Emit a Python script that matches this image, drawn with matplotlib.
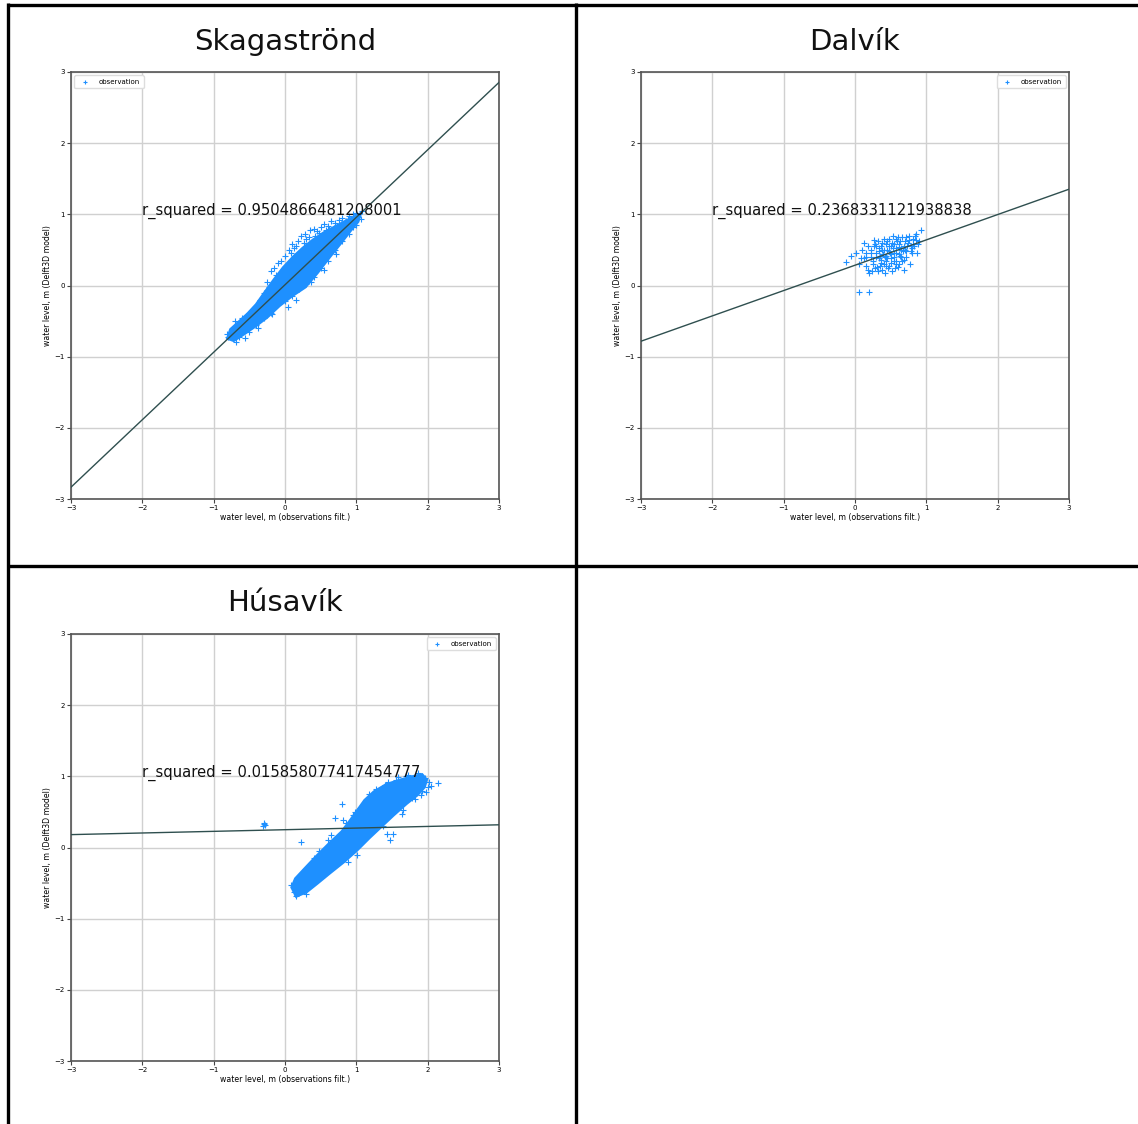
import numpy as np
import matplotlib
matplotlib.use('Agg')
import matplotlib.pyplot as plt
from matplotlib.lines import Line2D

# DADOS
stations = ['Skagaströnd', 'Dalvík', 'Húsavík']
r2_labels = ['0.9504866481208001', '0.2368331121938838', '0.015858077417454777']
slopes = [0.948, 0.356, 0.023]
intercepts = [0.01, 0.285, 0.25]
legend_loc = ['upper left', 'upper right', 'upper right']

# Skagaströnd - nucleo denso (contorno) e pontos espalhados
skag_core_x = [-0.80, -0.76, -0.65, -0.52, -0.40, -0.28, -0.15, -0.02, 0.12, 0.25, 0.40, 0.55,
               0.70, 0.85, 0.97, 1.05, 1.02, 0.92, 0.78, 0.62, 0.45, 0.28, 0.10, -0.08, -0.25,
               -0.42, -0.58, -0.72]
skag_core_y = [-0.74, -0.62, -0.52, -0.40, -0.27, -0.10, 0.08, 0.25, 0.40, 0.52, 0.64, 0.74,
               0.82, 0.90, 0.96, 1.00, 0.90, 0.78, 0.60, 0.40, 0.18, -0.02, -0.14, -0.28, -0.44,
               -0.57, -0.68, -0.77]
skag_x = [-0.25, -0.20, -0.15, -0.10, -0.05, 0.00, 0.05, 0.10, 0.12, 0.18, 0.22, 0.28, 0.30, 0.35,
          0.40, 0.45, 0.50, 0.55, 0.60, 0.65, 0.70, 0.75, 0.80, 0.85, 0.90, 0.95, 1.00, 1.02,
          -0.80, -0.75, -0.65, -0.50, -0.40, -0.30, -0.20, 0.00, 0.10, 0.20, 0.30, 0.40, 0.50,
          0.60, 0.70, 0.80, 0.90, 1.00, -0.70, -0.60, -0.50, -0.42, -0.35, -0.30, -0.22, 0.08,
          0.15, 0.26, 0.33, 0.42, 0.48, 0.58, 0.62, 0.68, 0.78, 0.88, 1.08, -0.62, -0.45, -0.12,
          -0.82, -0.68, -0.56, -0.38, -0.18, 0.04, 0.16, 0.36, 0.54, 0.72, 0.96, 1.06]
skag_y = [0.05, 0.20, 0.25, 0.32, 0.35, 0.42, 0.50, 0.58, 0.52, 0.62, 0.70, 0.72, 0.66, 0.78,
          0.80, 0.76, 0.82, 0.86, 0.84, 0.90, 0.88, 0.92, 0.95, 0.90, 0.98, 1.00, 1.02, 0.96,
          -0.72, -0.68, -0.72, -0.65, -0.55, -0.45, -0.38, -0.22, -0.15, -0.05, 0.02, 0.12, 0.25,
          0.35, 0.50, 0.62, 0.72, 0.85, -0.50, -0.45, -0.38, -0.30, -0.20, -0.10, -0.02, 0.45,
          0.55, 0.60, 0.68, 0.70, 0.74, 0.78, 0.80, 0.81, 0.86, 0.93, 1.04, -0.55, -0.42, 0.15,
          -0.68, -0.80, -0.74, -0.60, -0.40, -0.30, -0.20, 0.05, 0.22, 0.44, 0.82, 0.93]

# Dalvík - nuvem esparsa
dalv_x = [-0.13, -0.05, 0.02, 0.06, 0.20, 0.05, 0.10, 0.12, 0.15, 0.18, 0.20, 0.22, 0.25, 0.28,
          0.30, 0.32, 0.35, 0.38, 0.40, 0.42, 0.45, 0.48, 0.50, 0.52, 0.55, 0.58, 0.60, 0.62,
          0.65, 0.68, 0.70, 0.72, 0.75, 0.78, 0.80, 0.82, 0.85, 0.88, 0.90, 0.93, 0.15, 0.22,
          0.28, 0.33, 0.38, 0.43, 0.47, 0.53, 0.57, 0.63, 0.67, 0.73, 0.77, 0.83, 0.87, 0.25,
          0.30, 0.35, 0.40, 0.45, 0.50, 0.55, 0.60, 0.65, 0.70, 0.48, 0.52, 0.58, 0.62, 0.36,
          0.41, 0.27, 0.18, 0.08, 0.12, 0.44, 0.56, 0.66, 0.74, 0.80, 0.32, 0.24, 0.86, 0.51,
          0.34, 0.39, 0.44, 0.49, 0.54, 0.59, 0.64, 0.69, 0.29, 0.37, 0.46, 0.53, 0.61, 0.71,
          0.42, 0.47, 0.57, 0.63, 0.33, 0.26, 0.76, 0.81, 0.68, 0.55, 0.45, 0.38, 0.31, 0.23,
          0.16, 0.58, 0.66, 0.72, 0.50, 0.43, 0.36, 0.62, 0.79, 0.84]
dalv_y = [0.33, 0.42, 0.45, -0.09, -0.09, 0.30, 0.50, 0.38, 0.28, 0.55, 0.18, 0.45, 0.35, 0.25,
          0.55, 0.20, 0.42, 0.60, 0.30, 0.18, 0.50, 0.65, 0.38, 0.20, 0.58, 0.45, 0.68, 0.30,
          0.52, 0.22, 0.62, 0.40, 0.70, 0.55, 0.45, 0.65, 0.72, 0.58, 0.62, 0.78, 0.40, 0.50,
          0.58, 0.48, 0.22, 0.58, 0.28, 0.70, 0.35, 0.62, 0.48, 0.55, 0.30, 0.55, 0.45, 0.30,
          0.40, 0.28, 0.50, 0.38, 0.55, 0.46, 0.26, 0.40, 0.50, 0.48, 0.60, 0.52, 0.44, 0.36,
          0.66, 0.64, 0.22, 0.38, 0.60, 0.42, 0.25, 0.68, 0.60, 0.52, 0.62, 0.20, 0.64, 0.32,
          0.52, 0.44, 0.34, 0.45, 0.40, 0.62, 0.50, 0.36, 0.46, 0.32, 0.24, 0.52, 0.58, 0.48,
          0.40, 0.56, 0.30, 0.42, 0.38, 0.55, 0.64, 0.58, 0.56, 0.34, 0.62, 0.50, 0.26, 0.40,
          0.46, 0.66, 0.34, 0.68, 0.44, 0.28, 0.56, 0.54, 0.48, 0.70]

# Húsavík - nucleo denso e pontos espalhados
husa_core_x = [0.16, 0.10, 0.15, 0.28, 0.45, 0.62, 0.80, 0.92, 1.02, 1.12, 1.25, 1.42, 1.60,
               1.78, 1.92, 1.98, 1.95, 1.85, 1.70, 1.52, 1.35, 1.18, 1.00, 0.82, 0.62, 0.45,
               0.30]
husa_core_y = [-0.68, -0.56, -0.44, -0.30, -0.12, 0.05, 0.22, 0.38, 0.52, 0.66, 0.78, 0.88,
               0.94, 0.99, 1.02, 0.95, 0.85, 0.74, 0.62, 0.46, 0.30, 0.14, -0.04, -0.20, -0.36,
               -0.50, -0.62]
husa_x = [-0.30, -0.28, -0.31, -0.29, 0.23, 0.80, 0.82, 0.70, 0.98, 1.43, 1.52, 1.47, 1.01,
          0.89, 2.04, 1.64, 2.15, 0.16, 0.09, 0.30, 0.25, 0.40, 0.48, 0.60, 0.65, 0.85, 1.05,
          1.20, 1.25, 1.40, 1.55, 1.70, 1.75, 1.82, 1.88, 1.96, 2.00, 0.55, 0.62, 0.75, 0.92,
          1.12, 1.18, 1.30, 1.62, 1.78, 1.92, 0.35, 0.45, 0.58, 1.08, 1.35, 1.68, 0.14, 0.22,
          0.12, 0.20, 0.38, 0.52, 0.68, 0.78, 0.95, 1.15, 1.28, 1.45, 1.58, 1.72, 1.86, 2.02,
          1.98, 1.90, 1.66, 1.38, 0.72, 0.88]
husa_y = [0.33, 0.31, 0.30, 0.35, 0.08, 0.61, 0.38, 0.42, 0.50, 0.19, 0.19, 0.10, -0.11,
          -0.20, 0.87, 0.47, 0.90, -0.68, -0.53, -0.65, -0.35, -0.15, -0.05, 0.10, 0.18, 0.35,
          0.55, 0.72, 0.45, 0.88, 0.95, 1.00, 0.88, 0.68, 0.96, 0.98, 0.85, -0.38, -0.30, -0.18,
          0.02, 0.20, 0.75, 0.62, 0.60, 0.70, 0.80, -0.50, -0.42, -0.12, 0.30, 0.50, 0.86, -0.60,
          -0.45, -0.62, -0.52, -0.32, -0.20, -0.02, 0.12, 0.45, 0.66, 0.82, 0.92, 0.99, 1.02,
          1.04, 0.92, 0.78, 0.74, 0.52, 0.30, -0.08, 0.10]

cores = [(skag_core_x, skag_core_y), None, (husa_core_x, husa_core_y)]
scatters = [(skag_x, skag_y), (dalv_x, dalv_y), (husa_x, husa_y)]

# ESTILO
cor_pts = '#1e90ff'
cor_linha = '#2f4f4f'

fig = plt.figure(figsize=(11.38, 11.24), dpi=100)
W, H = 1138.0, 1124.0

# posicoes dos eixos (em pixels: esquerda, topo) e titulos
ax_px = [(71, 72), (641, 72), (71, 634)]
tit_px = [(285, 42), (855, 42), (285, 603)]
ax_w, ax_h = 428.0, 427.0

xx = np.array([-3, 3])
for i in range(3):
    l, t = ax_px[i]
    ax = fig.add_axes([l / W, 1 - (t + ax_h) / H, ax_w / W, ax_h / H])
    ax.set_xlim(-3, 3)
    ax.set_ylim(-3, 3)
    ax.set_xticks(range(-3, 4))
    ax.set_yticks(range(-3, 4))
    ax.grid(True, color='#d0d0d0', lw=1)
    ax.set_axisbelow(True)
    ax.tick_params(labelsize=5, length=3, width=0.8, pad=1.5, color='#444444')
    for s in ax.spines.values():
        s.set_color('#555555')
        s.set_linewidth(1.2)

    if cores[i] is not None:
        ax.fill(cores[i][0], cores[i][1], color=cor_pts, lw=2.5, ec=cor_pts, zorder=2)
    ax.scatter(scatters[i][0], scatters[i][1], marker='+', s=14, lw=0.8,
               color=cor_pts, label='observation', zorder=2)
    ax.plot(xx, slopes[i] * xx + intercepts[i], color=cor_linha, lw=1, zorder=3)
    ax.text(-2, 1, 'r_squared = ' + r2_labels[i], fontsize=10.6, color='#111111', zorder=4)

    ax.set_xlabel('water level, m (observations filt.)', fontsize=5.6, labelpad=1.5)
    ax.set_ylabel('water level, m (Delft3D model)', fontsize=5.6, labelpad=2)
    ax.legend(loc=legend_loc[i], fontsize=5, markerscale=0.7, handletextpad=1.0,
              borderpad=0.5, framealpha=1, edgecolor='#dddddd')

    fig.text(tit_px[i][0] / W, 1 - tit_px[i][1] / H, stations[i], fontsize=21,
             ha='center', va='center', color='#111111')

# BORDAS DA GRADE
def linha(x0, y0, x1, y1):
    fig.add_artist(Line2D([x0 / W, x1 / W], [1 - y0 / H, 1 - y1 / H], color='black',
                          lw=2.4, solid_capstyle='butt'))

linha(7.5, 4.5, W, 4.5)
linha(7.5, 3, 7.5, H)
linha(575.5, 3, 575.5, H)
linha(7.5, 566.5, W, 566.5)

fig.savefig('out.png', dpi=100)
